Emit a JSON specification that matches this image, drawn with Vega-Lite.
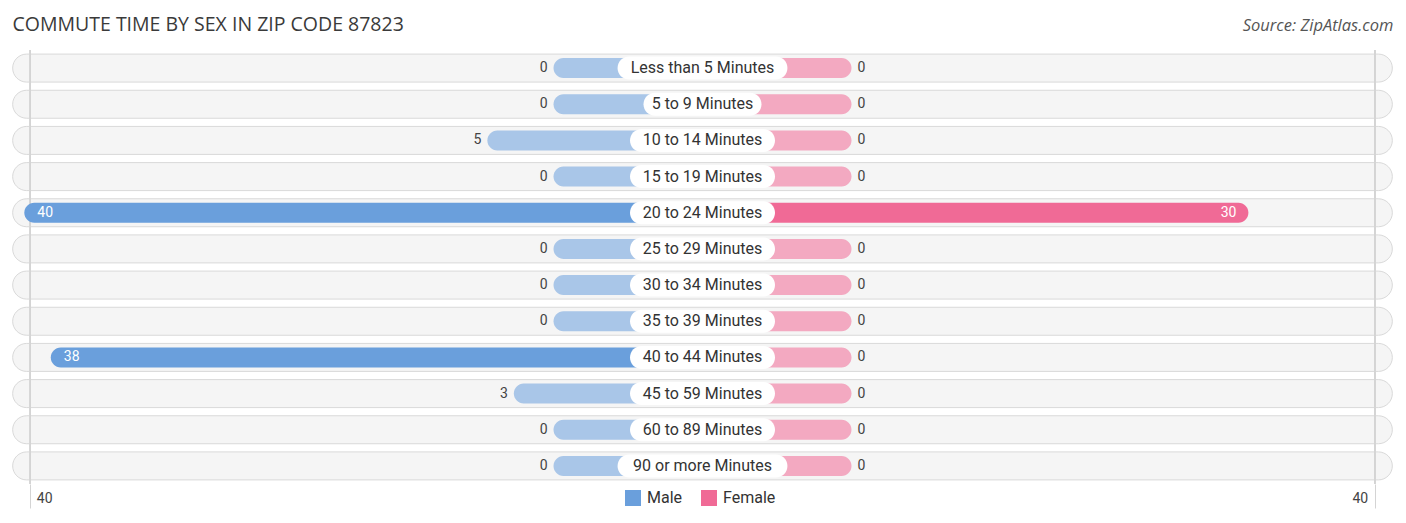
{
  "$schema": "https://vega.github.io/schema/vega-lite/v6.json",
  "description": "Commute time by sex in zip code 87823, diverging bars.",
  "width": 1381,
  "height": 434,
  "autosize": {"type": "none"},
  "padding": {"left": 12, "top": 50, "right": 13, "bottom": 39},
  "background": "white",
  "data": {
    "values": [
      {"cat": "Less than 5 Minutes", "male": 0, "female": 0},
      {"cat": "5 to 9 Minutes", "male": 0, "female": 0},
      {"cat": "10 to 14 Minutes", "male": 5, "female": 0},
      {"cat": "15 to 19 Minutes", "male": 0, "female": 0},
      {"cat": "20 to 24 Minutes", "male": 40, "female": 30},
      {"cat": "25 to 29 Minutes", "male": 0, "female": 0},
      {"cat": "30 to 34 Minutes", "male": 0, "female": 0},
      {"cat": "35 to 39 Minutes", "male": 0, "female": 0},
      {"cat": "40 to 44 Minutes", "male": 38, "female": 0},
      {"cat": "45 to 59 Minutes", "male": 3, "female": 0},
      {"cat": "60 to 89 Minutes", "male": 0, "female": 0},
      {"cat": "90 or more Minutes", "male": 0, "female": 0}
    ]
  },
  "layer": [
    {
      "mark": {"type": "bar", "height": 28, "cornerRadius": 14, "fill": "#f5f5f5", "stroke": "#d9d9d9", "strokeWidth": 1},
      "encoding": {
        "y": {"field": "cat", "type": "nominal", "sort": null, "axis": null,
          "scale": {"paddingInner": 0, "paddingOuter": 0}},
        "x": {"datum": -63.4, "type": "quantitative",
          "scale": {"domain": [-63.45, 40.93], "nice": false, "zero": false},
          "axis": {"orient": "top", "title": "Source: ZipAtlas.com", "titleAnchor": "end", "titleAlign": "right",
            "titleFontStyle": "italic", "titleFontWeight": "normal", "titleFontSize": 16.5, "titleFont": "Open Sans",
            "titleColor": "#555555", "titlePadding": 17, "labels": false, "ticks": false, "domain": false, "grid": false}},
        "x2": {"datum": 40.88}
      }
    },
    {
      "layer": [
        {
          "mark": {"type": "rule", "color": "#d4d4d4", "strokeWidth": 1},
          "encoding": {
            "x": {"datum": 39.55, "type": "quantitative",
              "scale": {"domain": [-63.45, 40.93], "nice": false, "zero": false},
              "axis": {"orient": "bottom", "values": [39.55], "labelExpr": "'40'", "title": null, "grid": false,
                "domain": false, "ticks": true, "tickSize": 24, "tickColor": "#d4d4d4", "labelAlign": "right",
                "labelOffset": -7, "labelPadding": -17, "labelFlush": false, "labelFontSize": 14,
                "labelFont": "Roboto", "labelColor": "#444444"}}
          }
        },
        {
          "mark": {"type": "bar", "height": 20, "cornerRadius": 10},
          "encoding": {
            "y": {"field": "cat", "type": "nominal", "sort": null, "axis": null},
            "x": {"field": "female", "type": "quantitative"},
            "x2": {"datum": -11.26},
            "color": {"datum": "Female", "type": "nominal"},
            "opacity": {"condition": {"test": "datum.female > 10", "value": 1}, "value": 0.55}
          }
        },
        {
          "transform": [{"filter": "datum.female <= 10"}],
          "mark": {"type": "text", "align": "left", "baseline": "middle", "dx": 6, "fontSize": 14, "font": "Roboto", "color": "#444444"},
          "encoding": {
            "y": {"field": "cat", "type": "nominal", "sort": null, "axis": null},
            "x": {"field": "female", "type": "quantitative"},
            "text": {"field": "female", "type": "quantitative"}
          }
        },
        {
          "transform": [{"filter": "datum.female > 10"}],
          "mark": {"type": "text", "align": "right", "baseline": "middle", "dx": -12, "fontSize": 14, "font": "Roboto", "color": "white"},
          "encoding": {
            "y": {"field": "cat", "type": "nominal", "sort": null, "axis": null},
            "x": {"field": "female", "type": "quantitative"},
            "text": {"field": "female", "type": "quantitative"}
          }
        }
      ]
    },
    {
      "layer": [
        {
          "mark": {"type": "rule", "color": "#d4d4d4", "strokeWidth": 1},
          "encoding": {
            "x": {"datum": 39.55, "type": "quantitative",
              "scale": {"domain": [-63.45, 40.93], "nice": false, "zero": false, "reverse": true},
              "axis": {"orient": "bottom", "values": [39.55], "labelExpr": "'40'", "title": null, "grid": false,
                "domain": false, "ticks": true, "tickSize": 24, "tickColor": "#d4d4d4", "labelAlign": "left",
                "labelOffset": 6, "labelPadding": -17, "labelFlush": false, "labelFontSize": 14,
                "labelFont": "Roboto", "labelColor": "#444444"}}
          }
        },
        {
          "mark": {"type": "bar", "height": 20, "cornerRadius": 10},
          "encoding": {
            "y": {"field": "cat", "type": "nominal", "sort": null, "axis": null},
            "x": {"field": "male", "type": "quantitative"},
            "x2": {"datum": -11.26},
            "color": {"datum": "Male", "type": "nominal",
              "scale": {"domain": ["Male", "Female"], "range": ["#6a9fdc", "#f06a96"]},
              "legend": {"title": null, "orient": "none", "legendX": 613, "legendY": 440, "direction": "horizontal",
                "symbolType": "square", "symbolSize": 256, "symbolStrokeWidth": 0, "labelFontSize": 16,
                "labelFont": "Roboto", "labelColor": "#333333", "columnPadding": 18, "labelOffset": 6}},
            "opacity": {"condition": {"test": "datum.male > 10", "value": 1}, "value": 0.55}
          }
        },
        {
          "transform": [{"filter": "datum.male <= 10"}],
          "mark": {"type": "text", "align": "right", "baseline": "middle", "dx": -6, "fontSize": 14, "font": "Roboto", "color": "#444444"},
          "encoding": {
            "y": {"field": "cat", "type": "nominal", "sort": null, "axis": null},
            "x": {"field": "male", "type": "quantitative"},
            "text": {"field": "male", "type": "quantitative"}
          }
        },
        {
          "transform": [{"filter": "datum.male > 10"}],
          "mark": {"type": "text", "align": "left", "baseline": "middle", "dx": 13, "fontSize": 14, "font": "Roboto", "color": "white"},
          "encoding": {
            "y": {"field": "cat", "type": "nominal", "sort": null, "axis": null},
            "x": {"field": "male", "type": "quantitative"},
            "text": {"field": "male", "type": "quantitative"}
          }
        }
      ]
    },
    {
      "layer": [
        {
          "transform": [{"filter": "length(datum.cat) <= 14"}],
          "mark": {"type": "bar", "height": 23, "cornerRadius": 11.5, "fill": "white"},
          "encoding": {
            "y": {"field": "cat", "type": "nominal", "sort": null, "axis": null},
            "x": {"datum": -15.72, "type": "quantitative",
              "scale": {"domain": [-63.45, 40.93], "nice": false, "zero": false},
              "axis": {"orient": "top", "title": "COMMUTE TIME BY SEX IN ZIP CODE 87823", "titleAnchor": "start",
                "titleAlign": "left", "titleFontWeight": "normal", "titleFontSize": 19.5, "titleFont": "Open Sans",
                "titleColor": "#3a3a3a", "titlePadding": 16, "labels": false, "ticks": false, "domain": false, "grid": false}},
            "x2": {"datum": -6.8}
          }
        },
        {
          "transform": [{"filter": "length(datum.cat) > 14 && length(datum.cat) <= 16"}],
          "mark": {"type": "bar", "height": 23, "cornerRadius": 11.5, "fill": "white"},
          "encoding": {
            "y": {"field": "cat", "type": "nominal", "sort": null, "axis": null},
            "x": {"datum": -16.74, "type": "quantitative"},
            "x2": {"datum": -5.78}
          }
        },
        {
          "transform": [{"filter": "length(datum.cat) > 16"}],
          "mark": {"type": "bar", "height": 23, "cornerRadius": 11.5, "fill": "white"},
          "encoding": {
            "y": {"field": "cat", "type": "nominal", "sort": null, "axis": null},
            "x": {"datum": -17.68, "type": "quantitative"},
            "x2": {"datum": -4.84}
          }
        },
        {
          "mark": {"type": "text", "align": "center", "baseline": "middle", "fontSize": 16, "font": "Roboto", "color": "#333333"},
          "encoding": {
            "y": {"field": "cat", "type": "nominal", "sort": null, "axis": null},
            "x": {"datum": -11.26, "type": "quantitative"},
            "text": {"field": "cat", "type": "nominal"}
          }
        }
      ]
    }
  ],
  "resolve": {"scale": {"x": "independent"}},
  "config": {
    "view": {"stroke": null}
  }
}
